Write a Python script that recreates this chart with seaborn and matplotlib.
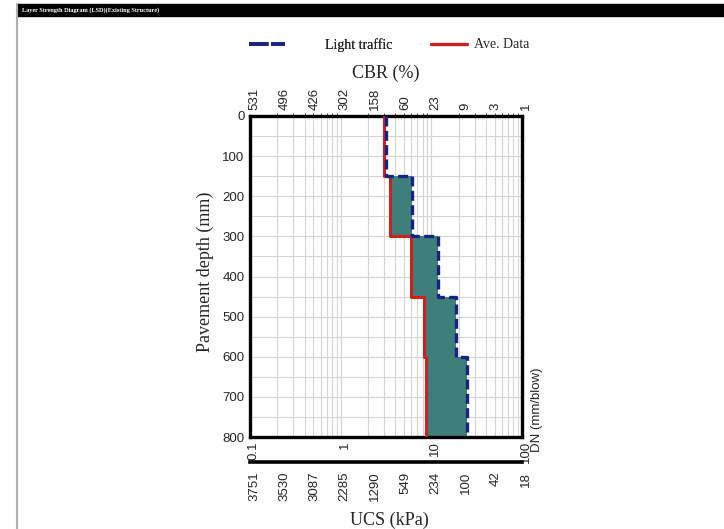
import numpy as np
import pandas as pd
import matplotlib
matplotlib.use("Agg")
import matplotlib.pyplot as plt
import matplotlib.transforms as mtrans
import seaborn as sns
from matplotlib.lines import Line2D
from matplotlib.patches import Rectangle
from matplotlib.ticker import LogLocator, NullFormatter, MultipleLocator

# layer data (depth in mm, DN in mm/blow)
depth_top = [0, 150, 300, 450, 600]
depth_bot = [150, 300, 450, 600, 800]
ave_dn = [3.0, 3.5, 6.0, 8.3, 8.75]
light_dn = [3.2, 6.1, 11.8, 18.9, 24.8]

dn_ticks = [0.1, 1, 10, 100]
dn_labels = ["0.1", "1", "10", "100"]
scale_ticks = [0.1, 0.2154, 0.4642, 1, 2.154, 4.642, 10, 21.54, 46.42, 100]
cbr_labels = ["531", "496", "426", "302", "158", "60", "23", "9", "3", "1"]
ucs_labels = ["3751", "3530", "3087", "2285", "1290", "549", "234", "100", "42", "18"]

RED = "#d01f1f"
NAVY = "#17237f"
TEAL = "#3f7f7b"
SERIF = "Liberation Serif"
SANS = "Liberation Sans"
DASH = (0, (3.0, 1.3))

sns.set_style("white")
plt.rcParams["font.family"] = SANS

W, H = 724, 529
fig = plt.figure(figsize=(W / 100, H / 100), dpi=100)

def fx(px):
    return px / W

def fy(py):
    return 1 - py / H

shift = mtrans.ScaledTranslation(4 / 100, 0, fig.dpi_scale_trans)

# step outline of each layer
depth_steps = np.column_stack([depth_top, depth_bot]).ravel()
df = pd.DataFrame({
    "depth": depth_steps,
    "ave": np.repeat(ave_dn, 2),
    "light": np.repeat(light_dn, 2),
})

x0, x1, y0, y1 = 250, 522, 116, 437
ax = fig.add_axes([fx(x0), fy(y1), fx(x1) - fx(x0), fy(y0) - fy(y1)])
ax.set_xscale("log")
ax.set_xlim(0.1, 100)
ax.set_ylim(800, 0)

ax.fill_betweenx(df["depth"], df["ave"], df["light"], color=TEAL, lw=0, zorder=2)
sns.lineplot(data=df, x="ave", y="depth", sort=False, estimator=None, ax=ax,
             color=RED, lw=2.2, zorder=3)
sns.lineplot(data=df, x="light", y="depth", sort=False, estimator=None, ax=ax,
             color=NAVY, lw=2.4, zorder=4, linestyle=DASH)

ax.xaxis.set_major_locator(LogLocator(base=10, numticks=10))
ax.xaxis.set_minor_locator(LogLocator(base=10, subs=np.arange(2, 10), numticks=40))
ax.xaxis.set_minor_formatter(NullFormatter())
ax.yaxis.set_major_locator(MultipleLocator(100))
ax.yaxis.set_minor_locator(MultipleLocator(50))
ax.grid(True, which="both", color="#d4d4d4", lw=0.8, zorder=0)
ax.set_axisbelow(True)

ax.set_xticks(dn_ticks)
ax.set_xticklabels(dn_labels, rotation=90, fontsize=9.5, family=SANS)
ax.tick_params(axis="x", which="both", length=0, pad=3)
ax.tick_params(axis="y", which="major", length=3, width=1, labelsize=9.5, pad=1)
ax.tick_params(axis="y", which="minor", length=0)
for lab in ax.get_xticklabels():
    lab.set_va("top")
    lab.set_transform(lab.get_transform() + shift)
ax.set_xlabel("")
ax.set_ylabel("")
for sp in ax.spines.values():
    sp.set_linewidth(2.4)
    sp.set_color("black")

# CBR scale on top
top = ax.secondary_xaxis("top")
top.set_xticks(scale_ticks)
top.set_xticklabels(cbr_labels, rotation=90, fontsize=9.5)
top.tick_params(length=0, pad=4)
top.spines["top"].set_visible(False)
for lab in top.get_xticklabels():
    lab.set_transform(lab.get_transform() + shift)

# UCS scale below
ucs_y = 462
ax2 = fig.add_axes([fx(x0), fy(ucs_y), fx(x1) - fx(x0), 0.0001])
ax2.set_xscale("log")
ax2.set_xlim(0.1, 100)
ax2.set_yticks([])
for s in ["top", "left", "right"]:
    ax2.spines[s].set_visible(False)
ax2.spines["bottom"].set_linewidth(2.6)
ax2.spines["bottom"].set_color("black")
ax2.xaxis.set_minor_locator(plt.NullLocator())
ax2.set_xticks(scale_ticks)
ax2.set_xticklabels(ucs_labels, rotation=90, fontsize=9.5)
ax2.tick_params(axis="x", length=0, pad=7)
ax2.set_facecolor("none")
for lab in ax2.get_xticklabels():
    lab.set_transform(lab.get_transform() + shift)

# axis titles
fig.text(fx(386), fy(73), "CBR (%)", ha="center", va="center", fontsize=13, family=SERIF)
fig.text(fx(389), fy(520), "UCS (kPa)", ha="center", va="center", fontsize=13, family=SERIF)
fig.text(fx(205), fy(272), "Pavement depth (mm)", ha="center", va="center",
         rotation=90, fontsize=13, family=SERIF)
fig.text(fx(537), fy(410), "DN (mm/blow)", ha="center", va="center",
         rotation=90, fontsize=9.5, family=SANS)

# legend
h1 = Line2D([], [], color=NAVY, lw=2.6, linestyle=(0, (5.4, 0.7)))
h2 = Line2D([], [], color=RED, lw=2.4)
leg1 = fig.legend([h1], ["Light traffic"], loc="center left", bbox_to_anchor=(fx(236), fy(45)),
                  frameon=False, handlelength=2.66, handletextpad=2.85,
                  prop={"family": SERIF, "size": 10})
fig.add_artist(leg1)
fig.legend([h2], ["Ave. Data"], loc="center left", bbox_to_anchor=(fx(418), fy(45)),
           frameon=False, handlelength=2.6, handletextpad=0.5,
           prop={"family": SERIF, "size": 10})

# header bar and frame
fig.patches.append(Rectangle((fx(17), fy(16)), 1 - fx(17), fy(4) - fy(16),
                             transform=fig.transFigure, color="black", zorder=0))
fig.lines.append(Line2D([fx(17), fx(17)], [0, fy(4)], transform=fig.transFigure,
                        color="#b0b0b0", lw=1.5))
fig.text(fx(22), fy(10), "Layer Strength Diagram (LSD)(Existing Structure)",
         color="white", fontsize=4.5, fontweight="bold", family=SERIF, va="center")

fig.savefig("out.png", dpi=100)
